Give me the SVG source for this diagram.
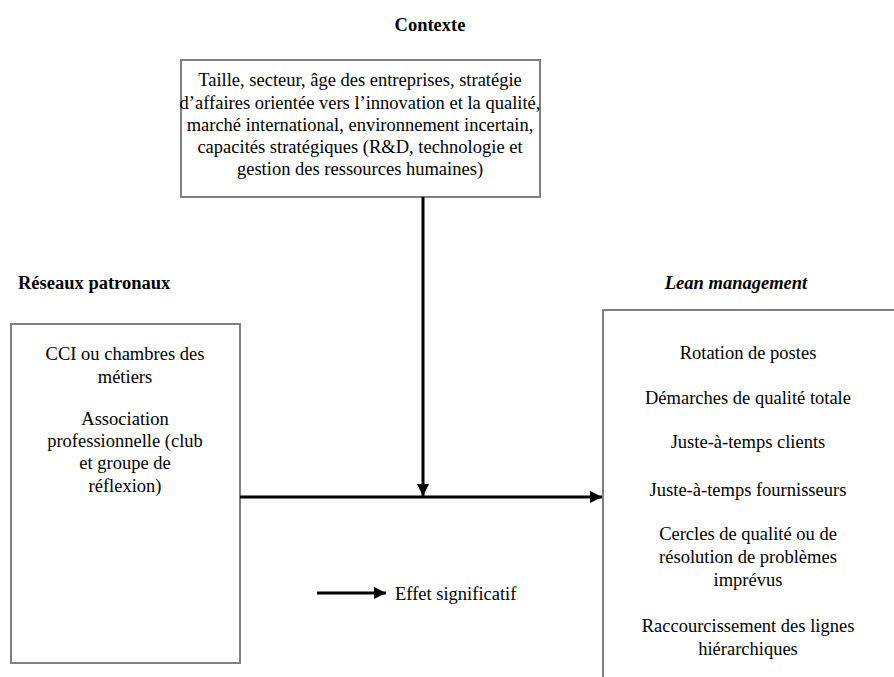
<svg xmlns="http://www.w3.org/2000/svg" width="894" height="677" viewBox="0 0 894 677">
<style>
text{font-family:"Liberation Serif","Times New Roman",Times,"DejaVu Serif","Noto Serif",serif;fill:#000}
.box{fill:#fff;stroke:#808080;stroke-width:2}
.t{font-size:18.5px;text-anchor:middle}
.s{font-size:18.5px;text-anchor:start}
.h{font-size:18.5px;font-weight:bold;text-anchor:middle}
.hs{font-size:18.5px;font-weight:bold;text-anchor:start}
.c{stroke:#000;stroke-width:3;fill:none}
</style>
<defs>
<marker id="ah" viewBox="0 0 10 10" refX="10" refY="5" markerWidth="4" markerHeight="4" markerUnits="strokeWidth" orient="auto">
<path d="M0,0 L10,5 L0,10 z" fill="#000"/>
</marker>
</defs>
<rect width="894" height="677" fill="#fff"/>
<text class="h" x="430" y="31">Contexte</text>
<text class="hs" x="18" y="289">Réseaux patronaux</text>
<text class="h" x="736" y="289" font-style="italic">Lean management</text>
<g id="contexte">
<rect class="box" x="181" y="60" width="359" height="137"/>
<text class="t" x="360" y="86">Taille, secteur, âge des entreprises, stratégie</text>
<text class="t" x="360" y="109">d’affaires orientée vers l’innovation et la qualité,</text>
<text class="t" x="360" y="131">marché international, environnement incertain,</text>
<text class="t" x="360" y="153">capacités stratégiques (R&amp;D, technologie et</text>
<text class="t" x="360" y="175">gestion des ressources humaines)</text>
</g>
<g id="reseaux">
<rect class="box" x="11" y="324" width="229" height="339"/>
<text class="t" x="125" y="360">CCI ou chambres des</text>
<text class="t" x="125" y="383">métiers</text>
<text class="t" x="125" y="425">Association</text>
<text class="t" x="125" y="447">professionnelle (club</text>
<text class="t" x="125" y="469">et groupe de</text>
<text class="t" x="125" y="492">réflexion)</text>
</g>
<g id="lean">
<path class="box" d="M903,310 L603,310 L603,686"/>
<text class="t" x="748" y="359">Rotation de postes</text>
<text class="t" x="748" y="404">Démarches de qualité totale</text>
<text class="t" x="748" y="448">Juste-à-temps clients</text>
<text class="t" x="748" y="496">Juste-à-temps fournisseurs</text>
<text class="t" x="748" y="540">Cercles de qualité ou de</text>
<text class="t" x="748" y="563">résolution de problèmes</text>
<text class="t" x="748" y="586">imprévus</text>
<text class="t" x="748" y="632">Raccourcissement des lignes</text>
<text class="t" x="748" y="655">hiérarchiques</text>
</g>
<g id="connectors">
<line class="c" x1="240" y1="497" x2="602" y2="497" marker-end="url(#ah)"/>
<line class="c" x1="423" y1="197" x2="423" y2="496" marker-end="url(#ah)"/>
<line class="c" x1="317" y1="593" x2="386" y2="593" marker-end="url(#ah)"/>
</g>
<text class="s" x="395" y="600">Effet significatif</text>
</svg>
